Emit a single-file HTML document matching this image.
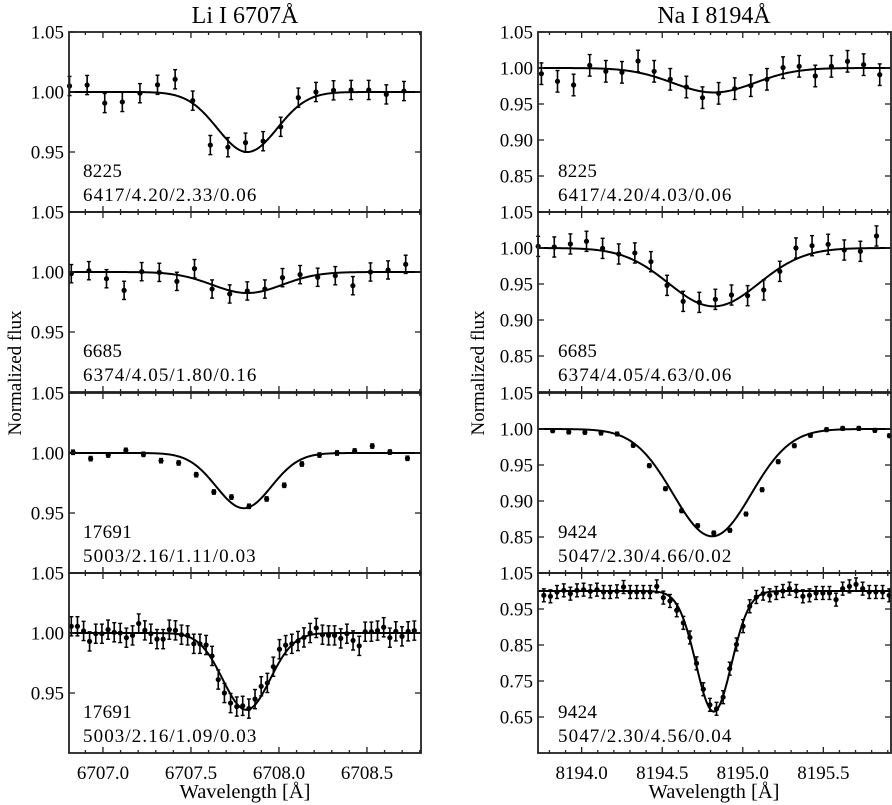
<!DOCTYPE html>
<html><head><meta charset="utf-8"><style>
html,body{margin:0;padding:0;background:#fff;}
svg{display:block;font-family:"Liberation Serif","DejaVu Serif",serif;}
</style></head><body>
<svg id="fig" width="892" height="805" viewBox="0 0 892 805" xmlns="http://www.w3.org/2000/svg">
<text x="245" y="23" font-size="24" text-anchor="middle">Li I 6707Å</text>
<text x="714" y="23" font-size="24" text-anchor="middle">Na I 8194Å</text>
<text transform="translate(21,373) rotate(-90)" font-size="19" text-anchor="middle">Normalized flux</text>
<text transform="translate(484,373) rotate(-90)" font-size="19" text-anchor="middle">Normalized flux</text>
<text x="245" y="798" font-size="20.5" text-anchor="middle">Wavelength [Å]</text>
<text x="714" y="798" font-size="20.5" text-anchor="middle">Wavelength [Å]</text>
</svg>
<script>
// ---- data ----
const liX1 = [6706.81,6706.91,6707.01,6707.11,6707.21,6707.31,6707.41,6707.51,6707.61,6707.71,6707.81,6707.91,6708.01,6708.11,6708.21,6708.31,6708.41,6708.51,6708.61,6708.71];
const liY1 = [1.005,1.0058,0.9908,0.9917,0.999,1.006,1.0106,0.9928,0.9558,0.954,0.9578,0.959,0.971,0.9953,1.0,1.0014,1.0017,1.0017,0.998,1.0008];
const liX2 = [6706.82,6706.92,6707.02,6707.12,6707.22,6707.32,6707.42,6707.52,6707.62,6707.72,6707.82,6707.92,6708.02,6708.12,6708.22,6708.32,6708.42,6708.52,6708.62,6708.72];
const liY2 = [0.9986,1.0011,0.9944,0.9847,1.0003,0.9997,0.9922,1.0028,0.9858,0.9817,0.9842,0.9858,0.9953,0.9978,0.9956,0.9969,0.9886,1.0,1.0017,1.0064];
const liX3 = [6706.83,6706.93,6707.03,6707.13,6707.23,6707.33,6707.43,6707.53,6707.63,6707.73,6707.83,6707.93,6708.03,6708.13,6708.23,6708.33,6708.43,6708.53,6708.63,6708.73];
const liY3 = [1.0006,0.9953,0.9983,1.0022,0.9989,0.9936,0.9917,0.9819,0.9675,0.9633,0.9556,0.9617,0.9731,0.9908,0.9983,1.0,1.0017,1.0058,1.0008,0.9956];
const liX4 = [6706.820,6706.855,6706.890,6706.924,6706.959,6706.994,6707.029,6707.064,6707.098,6707.133,6707.168,6707.203,6707.238,6707.272,6707.307,6707.342,6707.377,6707.412,6707.446,6707.481,6707.516,6707.551,6707.586,6707.620,6707.655,6707.690,6707.725,6707.760,6707.794,6707.829,6707.864,6707.899,6707.934,6707.968,6708.003,6708.038,6708.073,6708.108,6708.142,6708.177,6708.212,6708.247,6708.282,6708.316,6708.351,6708.386,6708.421,6708.456,6708.490,6708.525,6708.560,6708.595,6708.630,6708.664,6708.699,6708.734,6708.769];
const liY4 = [1.0056,1.0056,1.0017,0.993,0.9994,0.9994,1.0028,1.0006,1.0,0.9961,0.998,1.0079,1.0022,0.9994,0.9949,0.9949,1.0028,1.0022,0.9986,0.998,0.991,0.991,0.990,0.9809,0.9612,0.95,0.9416,0.9387,0.9393,0.937,0.9449,0.9556,0.9584,0.9719,0.9865,0.9899,0.991,0.9933,0.9963,1.0,1.0042,0.9986,0.998,0.998,0.9955,0.9994,0.9938,0.9893,1.0011,1.0011,1.002,1.0048,0.9961,1.0014,0.9972,1.0014,1.002];
const naX1 = [8193.75,8193.85,8193.95,8194.05,8194.15,8194.25,8194.35,8194.45,8194.55,8194.65,8194.75,8194.85,8194.95,8195.05,8195.15,8195.25,8195.35,8195.45,8195.55,8195.65,8195.75,8195.85];
const naY1 = [0.9921,0.9815,0.9764,1.0037,0.9954,0.994,1.0097,0.9954,0.9843,0.9736,0.9588,0.9648,0.9713,0.9755,0.9843,1.0005,1.0023,0.9889,1.0023,1.0093,1.0046,0.9907];
const naX2 = [8193.73,8193.83,8193.93,8194.03,8194.13,8194.23,8194.33,8194.43,8194.53,8194.63,8194.73,8194.83,8194.93,8195.03,8195.13,8195.23,8195.33,8195.43,8195.53,8195.63,8195.73,8195.83];
const naY2 = [1.0023,1.0014,1.0056,1.0093,0.9995,0.9917,0.9931,0.981,0.9481,0.9259,0.9245,0.9287,0.9347,0.9338,0.9417,0.9676,1.0,1.0032,1.0051,0.9972,0.9954,1.0167];
const naX3 = [8193.82,8193.92,8194.02,8194.12,8194.22,8194.32,8194.42,8194.52,8194.62,8194.72,8194.82,8194.92,8195.02,8195.12,8195.22,8195.32,8195.42,8195.52,8195.62,8195.72,8195.82,8195.91];
const naY3 = [0.9977,0.9958,0.9954,0.9944,0.9931,0.9773,0.9491,0.9171,0.8865,0.8657,0.8556,0.8593,0.8819,0.9157,0.9546,0.9768,0.9912,0.9991,1.0009,1.0009,0.9981,0.9907];
const naX4 = [8193.765,8193.806,8193.847,8193.889,8193.930,8193.971,8194.012,8194.054,8194.095,8194.136,8194.177,8194.219,8194.260,8194.301,8194.342,8194.383,8194.425,8194.466,8194.507,8194.548,8194.590,8194.631,8194.672,8194.713,8194.755,8194.796,8194.837,8194.878,8194.919,8194.961,8195.002,8195.043,8195.084,8195.126,8195.167,8195.208,8195.249,8195.290,8195.332,8195.373,8195.414,8195.455,8195.497,8195.538,8195.579,8195.620,8195.662,8195.703,8195.744,8195.785,8195.826,8195.868,8195.909];
const naY4 = [0.988,0.9852,0.9972,1.0018,0.9926,1.0018,1.0037,0.9991,1.0037,0.9972,0.9972,0.9991,1.0111,0.9972,0.9972,0.9972,0.9972,1.0129,0.9816,0.9723,0.9465,0.9115,0.8709,0.799,0.7271,0.6837,0.6727,0.705,0.7843,0.8516,0.9023,0.9576,0.9834,0.9926,0.988,0.9945,1.0,1.0065,1.0,0.9852,0.988,0.9945,0.9945,0.9945,0.976,1.0065,1.0129,1.0184,1.0065,0.9972,0.9972,0.9972,0.988];
// fit parameters: [center, depth, sigma]
const liFit = [[6707.82,0.05,0.17],[6707.82,0.0175,0.2],[6707.80,0.046,0.157],[6707.815,0.064,0.134]];
const naFit = [[8194.82,0.034,0.255],[8194.82,0.081,0.28],[8194.81,0.149,0.242],[8194.82,0.335,0.11]];
const liErr = [0.008,0.0076,0.0018,0.008];
const naErr = [0.015,0.014,0.0025,0.018];
const liTicksY = [["1.05","1.00","0.95"],["1.05","1.00","0.95"],["1.05","1.00","0.95"],["1.05","1.00","0.95"]];
const naTicksY = [["1.05","1.00","0.95","0.90","0.85"],["1.05","1.00","0.95","0.90","0.85"],["1.05","1.00","0.95","0.90","0.85"],["1.05","0.95","0.85","0.75","0.65"]];
const liTicksX = ["6707.0","6707.5","6708.0","6708.5"];
const naTicksX = ["8194.0","8194.5","8195.0","8195.5"];
const liLabels = [["8225","6417/4.20/2.33/0.06"],["6685","6374/4.05/1.80/0.16"],["17691","5003/2.16/1.11/0.03"],["17691","5003/2.16/1.09/0.03"]];
const naLabels = [["8225","6417/4.20/4.03/0.06"],["6685","6374/4.05/4.63/0.06"],["9424","5047/2.30/4.66/0.02"],["9424","5047/2.30/4.56/0.04"]];
const naYmin = [0.80,0.80,0.80,0.55];

const svg = document.getElementById('fig');
const NS = 'http://www.w3.org/2000/svg';
function mk(tag, attrs, parent){const e=document.createElementNS(NS,tag);for(const k in attrs)e.setAttribute(k,attrs[k]);(parent||svg).appendChild(e);return e;}
const tops=[32,212,393,573], H=180;
const liXs=[liX1,liX2,liX3,liX4], liYs=[liY1,liY2,liY3,liY4];
const naXs=[naX1,naX2,naX3,naX4], naYs=[naY1,naY2,naY3,naY4];

function panel(col, i, left, right, xmin, xmax, ymin, ymax, xs, ys, err, fit, yt, xt, labels, bottom){
  const top=tops[i], bot=top+H;
  const sx=w=>left+(w-xmin)/(xmax-xmin)*(right-left);
  const sy=v=>bot-(v-ymin)/(ymax-ymin)*H;
  const g=mk('g',{});
  
  
  let d='';
  for(let p=0;p<=300;p++){const w=xmin+(xmax-xmin)*p/300;const v=1-fit[1]*Math.exp(-0.5*Math.pow((w-fit[0])/fit[2],2));d+=(p?'L':'M')+sx(w).toFixed(2)+','+sy(v).toFixed(2);}
  const c=mk('path',{d:d,fill:'none',stroke:'#000','stroke-width':2},g);
  
  
  for(let k=0;k<xs.length;k++){
    const x=sx(xs[k]), y=sy(ys[k]), e1=sy(ys[k]+err), e2=sy(ys[k]-err);
    const pg=mk('g',{},g);
    
    
    mk('line',{x1:x,x2:x,y1:e1,y2:e2,stroke:'#000','stroke-width':1.6},pg);
    mk('line',{x1:x-2,x2:x+2,y1:e1,y2:e1,stroke:'#000','stroke-width':1.4},pg);
    mk('line',{x1:x-2,x2:x+2,y1:e2,y2:e2,stroke:'#000','stroke-width':1.4},pg);
    mk('circle',{cx:x,cy:y,r:2.6,fill:'#000'},pg);
  }
  const fr=mk('rect',{x:left,y:top,width:right-left,height:H,fill:'none',stroke:'#222','stroke-width':1.8},g);
  
  
  const start=Math.ceil(xmin*10-1e-6);
  for(let t=start;t/10<=xmax;t++){
    const x=sx(t/10), major=(t%5===0), L=major?6:3;
    mk('line',{x1:x,x2:x,y1:top,y2:top+L,stroke:'#222','stroke-width':1.3},g);
    mk('line',{x1:x,x2:x,y1:bot,y2:bot-L,stroke:'#222','stroke-width':1.3},g);
  }
  yt.forEach(s=>{
    const v=parseFloat(s), y=sy(v);
    mk('line',{x1:left,x2:left+6,y1:y,y2:y,stroke:'#222','stroke-width':1.3},g);
    mk('line',{x1:right,x2:right-6,y1:y,y2:y,stroke:'#222','stroke-width':1.3},g);
    const tx=mk('text',{x:left-5,y:y+6.5,'font-size':19,'text-anchor':'end'},g);
    tx.textContent=s;
    
    
  });
  if(bottom){
    xt.forEach(s=>{
      const tx=mk('text',{x:sx(parseFloat(s)),y:779,'font-size':19,'text-anchor':'middle'},g);
      tx.textContent=s;
      
      
    });
  }
  labels.forEach((s,j)=>{
    const tx=mk('text',{x:left+(col==='li'?14:20),y:top+145+j*24,'font-size':19,'letter-spacing':(j?1.1:0.3)},g);
    tx.textContent=s;
    
    
  });
}
for(let i=0;i<4;i++){
  panel('li',i,69,421,6706.807,6708.807,0.90,1.05,liXs[i],liYs[i],liErr[i],liFit[i],liTicksY[i],liTicksX,liLabels[i],i===3);
  panel('na',i,538,891,8193.729,8195.92,naYmin[i],1.05,naXs[i],naYs[i],naErr[i],naFit[i],naTicksY[i],naTicksX,naLabels[i],i===3);
}
</script>
</body></html>
